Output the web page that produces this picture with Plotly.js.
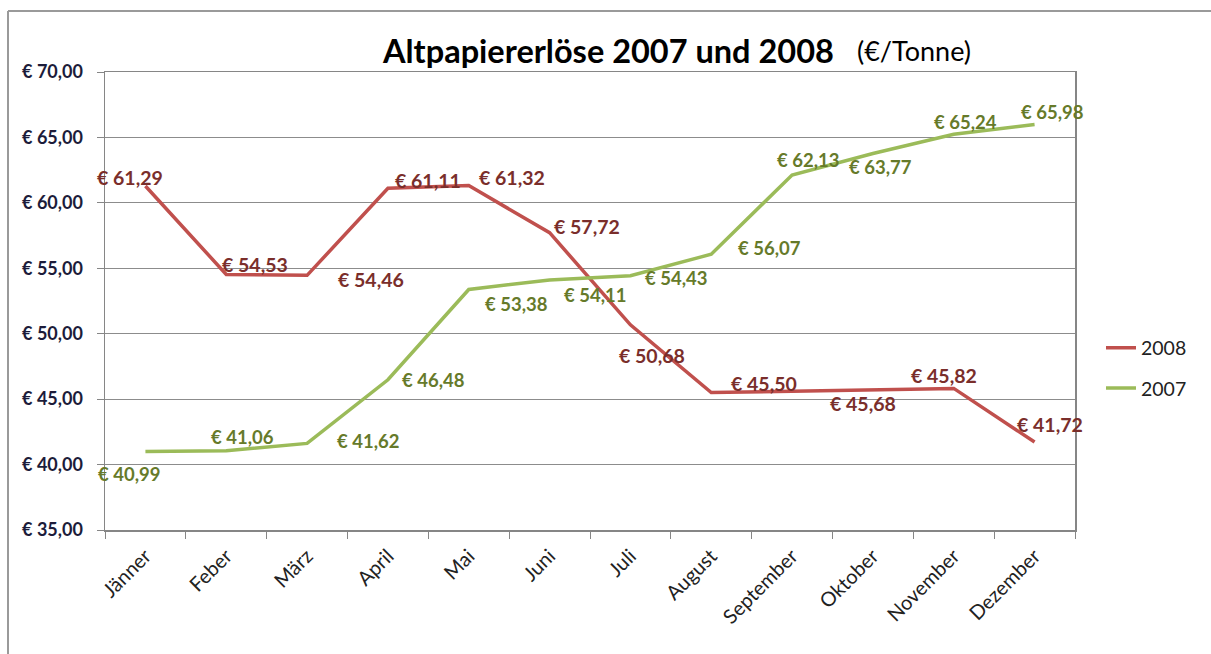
<!DOCTYPE html>
<html>
<head>
<meta charset="utf-8">
<script src="https://cdn.plot.ly/plotly-3.0.1.min.js"></script>
<style>html,body{margin:0;padding:0;background:#fff;}#chart{width:1211px;height:654px;}</style>
</head>
<body>
<div id="chart"></div>
<script>
// ---- data ----
const months = ["Jänner","Feber","März","April","Mai","Juni","Juli","August","September","Oktober","November","Dezember"];
const values2008 = [61.29, 54.53, 54.46, 61.11, 61.32, 57.72, 50.68, 45.50, 45.60, 45.68, 45.82, 41.72];
const values2007 = [40.99, 41.06, 41.62, 46.48, 53.38, 54.11, 54.43, 56.07, 62.13, 63.77, 65.24, 65.98];
const labelShown2008 = [true, true, true, true, true, true, true, true, false, true, true, true];
const yTicks = [35, 40, 45, 50, 55, 60, 65, 70];

// ---- label offsets (style only, pixels) ----
const off2008 = [[-15,8],[29,10],[64,-4],[40,8],[43,8],[37,6],[22,-31],[53,9],[0,0],[-10,-13],[-10,13],[15,18]];
const off2007 = [[-16,-22],[16,14],[61,2],[46,0],[48,-15],[45,-15],[46,-2],[58,6],[16,15],[8,-13],[12,12],[18,13]];

const fmt = v => '€ ' + v.toFixed(2).replace('.', ',');

const c2008 = '#c0504d', c2007 = '#9bbb59';
const l2008 = '#7a2e2b', l2007 = '#667a2a';
const labelFont = 'Lato, "Open Sans", sans-serif';

const W = 970, H = 458; // plot area size
const px = x => (x - 105) / W;
const py = y => (530 - y) / H;

const annotations = [];
values2008.forEach((v, i) => {
  if (!labelShown2008[i]) return;
  annotations.push({x: months[i], y: v, xref: 'x', yref: 'y', text: '<b>' + fmt(v) + '</b>', showarrow: false,
    xshift: off2008[i][0], yshift: off2008[i][1], font: {family: labelFont, size: 19.5, color: l2008}});
});
values2007.forEach((v, i) => {
  annotations.push({x: months[i], y: v, xref: 'x', yref: 'y', text: '<b>' + fmt(v) + '</b>', showarrow: false,
    xshift: off2007[i][0], yshift: off2007[i][1], font: {family: labelFont, size: 18.5, color: l2007}});
});
// title pieces
annotations.push({xref: 'paper', yref: 'paper', x: px(380), y: py(50), xanchor: 'left', yanchor: 'middle', showarrow: false,
  text: '<b>Altpapiererlöse 2007 und 2008</b>', font: {family: labelFont, size: 32.5, color: '#000'}});
annotations.push({xref: 'paper', yref: 'paper', x: px(855), y: py(50), xanchor: 'left', yanchor: 'middle', showarrow: false,
  text: '(€/Tonne)', font: {family: labelFont, size: 27, color: '#000'}});

const traces = [
  {x: months, y: values2008, type: 'scatter', mode: 'lines', name: '2008', legendgroup: 'a',
   line: {color: c2008, width: 3.5}, hoverinfo: 'skip'},
  {x: months, y: values2007, type: 'scatter', mode: 'lines', name: '2007', legendgroup: 'b',
   line: {color: c2007, width: 3.5}, hoverinfo: 'skip'}
];

const layout = {
  width: 1211, height: 654,
  margin: {l: 105, r: 136, t: 72, b: 124, pad: 0},
  paper_bgcolor: '#fff', plot_bgcolor: '#fff',
  showlegend: true,
  xaxis: {
    type: 'category', tickson: 'boundaries', ticks: 'outside', ticklen: 7, tickcolor: '#868686',
    showline: true, linecolor: '#868686', linewidth: 1.5, mirror: true, showgrid: false, zeroline: false,
    tickangle: -45, ticklabelstandoff: 5,
    tickfont: {family: labelFont, size: 20, color: '#222'}, range: [-0.5, 11.5]
  },
  yaxis: {
    range: [35, 70], tickmode: 'array', tickvals: yTicks, ticktext: yTicks.map(v => '<b>' + fmt(v) + '</b>'),
    ticks: 'outside', ticklen: 7, tickcolor: '#868686', ticklabelstandoff: 10,
    showline: true, linecolor: '#868686', linewidth: 1.5, mirror: true,
    showgrid: true, gridcolor: '#8c8c8c', gridwidth: 1, zeroline: false,
    tickfont: {family: labelFont, size: 18, color: '#1c1c3a'}
  },
  legend: {
    x: px(1101), xanchor: 'left', y: py(368), yanchor: 'middle',
    traceorder: 'grouped', tracegroupgap: 12,
    font: {family: labelFont, size: 19.5, color: '#222'}, bgcolor: 'rgba(0,0,0,0)'
  },
  annotations: annotations,
  shapes: [
    {type: 'line', xref: 'paper', yref: 'paper', x0: px(8), x1: px(1211), y0: py(11), y1: py(11), line: {color: '#9a9a9a', width: 2}},
    {type: 'line', xref: 'paper', yref: 'paper', x0: px(8), x1: px(8), y0: py(11), y1: py(654), line: {color: '#9a9a9a', width: 2}}
  ]
};

Plotly.newPlot('chart', traces, layout, {displayModeBar: false, staticPlot: true});
</script>
</body>
</html>
